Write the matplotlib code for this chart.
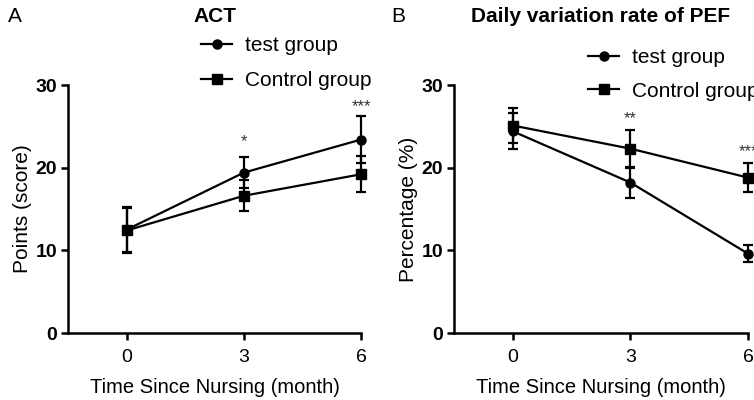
import matplotlib
matplotlib.use("Agg")
import matplotlib.pyplot as plt
from matplotlib.lines import Line2D

plt.rcParams['font.family'] = ['Liberation Sans', 'DejaVu Sans']

months = [0, 3, 6]
x_ticklabels = ["0", "3", "6"]
y_ticks = [0, 10, 20, 30]

# Panel A: ACT
act_test = [12.5, 19.4, 23.4]
act_test_err = [2.7, 1.9, 2.8]
act_ctrl = [12.4, 16.6, 19.2]
act_ctrl_err = [2.7, 1.9, 2.2]
act_stars = ["", "*", "***"]
act_star_y = [None, 23.1, 27.4]

# Panel B: Daily variation rate of PEF
pef_test = [24.4, 18.2, 9.6]
pef_test_err = [2.2, 1.9, 1.05]
pef_ctrl = [25.1, 22.3, 18.8]
pef_ctrl_err = [2.1, 2.3, 1.8]
pef_stars = ["", "**", "***"]
pef_star_y = [None, 25.9, 21.9]

fig = plt.figure(figsize=(7.54, 4.0), dpi=100)
axA = fig.add_axes([68/754, 67/400, (361-68)/754, (333-85)/400])
axB = fig.add_axes([454/754, 67/400, (748-454)/754, (333-85)/400])

LW = 1.6


def draw(ax, test, terr, ctrl, cerr, stars, stary, ylabel):
    ax.errorbar(months, test, yerr=terr, color='black', marker='o', markersize=6.5,
                linewidth=LW, elinewidth=LW, capsize=3.6, capthick=LW,
                clip_on=False, zorder=3)
    ax.errorbar(months, ctrl, yerr=cerr, color='black', marker='s', markersize=6.5,
                linewidth=LW, elinewidth=LW, capsize=3.6, capthick=LW,
                clip_on=False, zorder=3)
    for xm, s, sy in zip(months, stars, stary):
        if s:
            ax.text(xm, sy, s, ha='center', va='center', fontsize=12, color='#333333',
                    clip_on=False)
    ax.set_xlim(-1.5, 6)
    ax.set_ylim(0, 30)
    ax.set_xticks(months)
    ax.set_xticklabels(x_ticklabels, fontsize=14)
    ax.set_yticks(y_ticks)
    ax.set_yticklabels([str(t) for t in y_ticks], fontsize=14, fontweight='bold')
    for s in ['top', 'right']:
        ax.spines[s].set_visible(False)
    for s in ['left', 'bottom']:
        ax.spines[s].set_linewidth(1.8)
    ax.tick_params(axis='both', width=1.8, length=5, direction='out', pad=3)
    ax.tick_params(axis='x', pad=6.5)
    ax.set_xlabel('Time Since Nursing (month)', fontsize=14.5, labelpad=9)
    ax.set_ylabel(ylabel, fontsize=15, labelpad=2)


draw(axA, act_test, act_test_err, act_ctrl, act_ctrl_err, act_stars, act_star_y, 'Points (score)')
draw(axB, pef_test, pef_test_err, pef_ctrl, pef_ctrl_err, pef_stars, pef_star_y, 'Percentage (%)')

handles = [
    Line2D([], [], color='black', marker='o', markersize=6.5, linewidth=LW),
    Line2D([], [], color='black', marker='s', markersize=6.5, linewidth=LW),
]
labels = ['test group', 'Control group']

for ax, (lx, ly, sp) in [(axA, (201, 36, 0.78)), (axB, (588, 48, 0.7))]:
    ax.legend(handles, labels, loc='upper left', bbox_to_anchor=(lx/754, 1 - ly/400),
              bbox_transform=fig.transFigure, frameon=False, fontsize=15,
              handlelength=1.5, handletextpad=0.6, labelspacing=sp,
              borderpad=0, borderaxespad=0)

fig.text(215/754, 1 - 16/400, 'ACT', ha='center', va='center', fontsize=15, fontweight='bold')
fig.text(601/754, 1 - 16/400, 'Daily variation rate of PEF', ha='center', va='center',
         fontsize=15, fontweight='bold')
fig.text(8/754, 1 - 16/400, 'A', ha='left', va='center', fontsize=15)
fig.text(391/754, 1 - 16/400, 'B', ha='left', va='center', fontsize=15)

fig.savefig('out.png', dpi=100)
